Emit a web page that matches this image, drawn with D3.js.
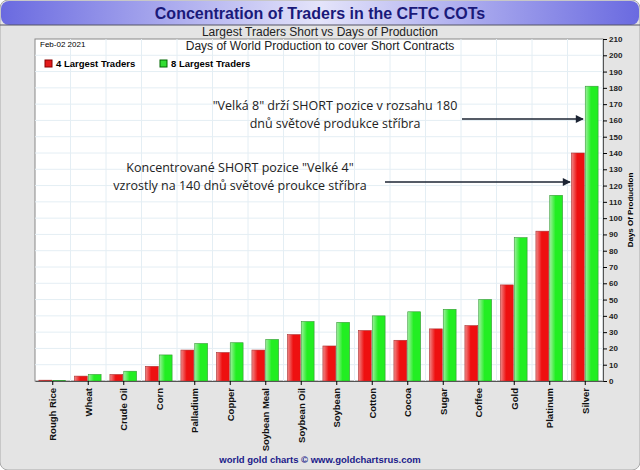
<!DOCTYPE html><html><head><meta charset="utf-8"><script src="https://cdn.jsdelivr.net/npm/d3@7"></script>
<style>body{margin:0;background:#fff}</style></head><body><svg id="c" width="640" height="470"></svg>
<script>
const categories=["Rough Rice","Wheat","Crude Oil","Corn","Palladium","Copper","Soybean Meal","Soybean Oil","Soybean","Cotton","Cocoa","Sugar","Coffee","Gold","Platinum","Silver"];
const four=[0.5,3,4,9,19,17.5,19,28.5,21.5,31,25,32,34,59,92,140];
const eight=[0.3,4,6,16,23,23.5,25.5,36.5,36,40,42.5,44,50,88,114,181];
const yTicks=d3.range(0,211,10);
const svg=d3.select("#c");
const defs=svg.append("defs");
const tg=defs.append("linearGradient").attr("id","tg").attr("x1",0).attr("x2",0).attr("y1",0).attr("y2",1);
tg.append("stop").attr("offset",0).attr("stop-color","#d8d8f8");tg.append("stop").attr("offset",1).attr("stop-color","#7878e8");
const tg2=defs.append("linearGradient").attr("id","tg2");
tg2.append("stop").attr("offset",0).attr("stop-color","#6a6ae0");tg2.append("stop").attr("offset",0.5).attr("stop-color","#e4e4fa");tg2.append("stop").attr("offset",1).attr("stop-color","#6a6ae0");
function barGrad(id,a,b){const g=defs.append("linearGradient").attr("id",id);g.append("stop").attr("offset",0).attr("stop-color",a);g.append("stop").attr("offset",0.45).attr("stop-color",b);g.append("stop").attr("offset",1).attr("stop-color",b);}
barGrad("rg","#f08a8a","#ee1010");barGrad("gg","#a0f0a0","#22ee22");
svg.append("rect").attr("x",0).attr("y",0).attr("width",640).attr("height",470).attr("rx",8).attr("fill","#e4e4e4").attr("stroke","#aaa");
svg.append("rect").attr("x",1).attr("y",1).attr("width",638).attr("height",24).attr("rx",8).attr("fill","url(#tg2)");
svg.append("line").attr("x1",0).attr("x2",640).attr("y1",25).attr("y2",25).attr("stroke","#556");
svg.append("text").attr("x",320).attr("y",19).attr("text-anchor","middle").attr("font-family","Liberation Sans,Arial").attr("font-weight","bold").attr("font-size",16).attr("fill","#1a1a7a").text("Concentration of Traders in the CFTC COTs");
svg.append("text").attr("x",320).attr("y",36).attr("text-anchor","middle").attr("font-family","Liberation Sans Narrow,Liberation Sans").attr("font-size",12).attr("fill","#222").text("Largest Traders Short vs Days of Production");
const m={l:35,r:603,t:39,b:381};
svg.append("rect").attr("x",m.l).attr("y",m.t).attr("width",m.r-m.l).attr("height",m.b-m.t).attr("fill","#fff").attr("stroke","#888");
const x=d3.scaleBand().domain(categories).range([m.l,m.r]).paddingInner(0.22).paddingOuter(0.11);
const y=d3.scaleLinear().domain([0,210]).range([m.b,m.t]);
svg.append("g").selectAll("line").data(yTicks.slice(1,-1)).join("line").attr("x1",m.l).attr("x2",m.r).attr("y1",d=>y(d)).attr("y2",d=>y(d)).attr("stroke","#e4eef4");
svg.append("g").selectAll("line").data(categories).join("line").attr("x1",d=>x(d)+x.bandwidth()+x.step()*0.11).attr("x2",d=>x(d)+x.bandwidth()+x.step()*0.11).attr("y1",m.t).attr("y2",m.b).attr("stroke","#e4eef4");
const bw=x.bandwidth()/2;
const g=svg.append("g");
g.selectAll(".r").data(categories).join("rect").attr("x",d=>x(d)).attr("width",bw-1).attr("y",(d,i)=>y(four[i])).attr("height",(d,i)=>m.b-y(four[i])).attr("fill","url(#rg)").attr("stroke","#a33").attr("stroke-width",0.6);
g.selectAll(".g").data(categories).join("rect").attr("x",d=>x(d)+bw).attr("width",bw-1).attr("y",(d,i)=>y(eight[i])).attr("height",(d,i)=>m.b-y(eight[i])).attr("fill","url(#gg)").attr("stroke","#393").attr("stroke-width",0.6);
const ya=svg.append("g").attr("transform",`translate(${m.r},0)`).call(d3.axisRight(y).tickValues(yTicks).tickSize(4).tickPadding(2));
ya.select(".domain").attr("stroke","#555");
ya.selectAll("text").attr("font-family","Liberation Sans").attr("font-weight","bold").attr("font-size",8).attr("fill","#222");
svg.append("text").attr("transform","translate(633,210) rotate(-90)").attr("text-anchor","middle").attr("font-family","Liberation Sans").attr("font-weight","bold").attr("font-size",8).text("Days Of Production");
const xa=svg.append("g").attr("transform",`translate(0,${m.b})`).call(d3.axisBottom(x).tickSize(4).tickSizeOuter(0));
xa.select(".domain").attr("stroke","#555");
xa.selectAll("text").attr("transform","rotate(-90)").attr("text-anchor","end").attr("x",-7).attr("y",0).attr("dy","0.35em").attr("font-family","Liberation Sans").attr("font-weight","bold").attr("font-size",9.5).attr("fill","#111");
svg.append("text").attr("x",40).attr("y",47).attr("font-family","Liberation Sans Narrow,Liberation Sans").attr("font-size",8).text("Feb-02  2021");
svg.append("text").attr("x",320).attr("y",50).attr("text-anchor","middle").attr("font-family","Liberation Sans Narrow,Liberation Sans").attr("font-size",12).attr("fill","#222").text("Days of World Production to cover Short Contracts");
const leg=[["4 Largest Traders","#e41a1a","#800"],["8 Largest Traders","#33dd33","#060"]];
leg.forEach((l,i)=>{const lx=45+i*115;svg.append("rect").attr("x",lx).attr("y",60).attr("width",7).attr("height",7).attr("fill",l[1]).attr("stroke",l[2]);
svg.append("text").attr("x",lx+11).attr("y",67).attr("font-family","Liberation Sans Narrow,Liberation Sans").attr("font-weight","bold").attr("font-size",9.5).text(l[0]);});
defs.append("marker").attr("id","ah").attr("viewBox","0 0 10 10").attr("refX",9).attr("refY",5).attr("markerWidth",6).attr("markerHeight",5).attr("orient","auto").append("path").attr("d","M0,0L10,5L0,10z").attr("fill","#1c2433");
const ann=[{lines:['"Velká 8" drží SHORT pozice v rozsahu 180','dnů světové produkce stříbra'],cx:335,ty:110,ax1:462,ax2:583,ay:119},
{lines:['Koncentrované SHORT pozice "Velké 4"','vzrostly na 140 dnů světové proukce stříbra'],cx:240,ty:172,ax1:385,ax2:570,ay:182}];
ann.forEach(a=>{a.lines.forEach((t,j)=>svg.append("text").attr("x",a.cx).attr("y",a.ty+j*18).attr("text-anchor","middle").attr("font-family","Open Sans,Noto Sans").attr("font-size",12.5).attr("fill","#222").text(t));
svg.append("line").attr("x1",a.ax1).attr("x2",a.ax2).attr("y1",a.ay).attr("y2",a.ay).attr("stroke","#1c2433").attr("stroke-width",1.6).attr("marker-end","url(#ah)");});
svg.append("text").attr("x",320).attr("y",463).attr("text-anchor","middle").attr("font-family","Liberation Sans").attr("font-weight","bold").attr("font-size",9.5).attr("fill","#1a1a8a").text("world gold charts © www.goldchartsrus.com");
</script></body></html>
